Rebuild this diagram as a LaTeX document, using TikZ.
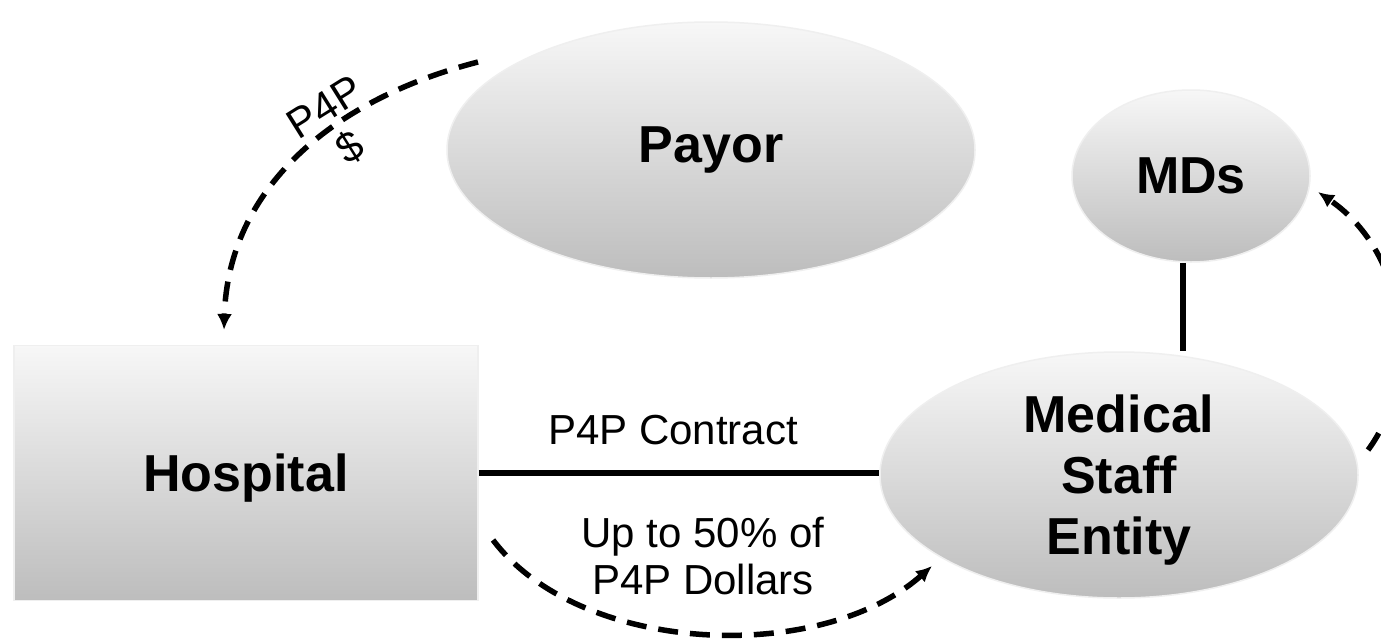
\documentclass[tikz,border=0pt]{standalone}
\usepackage{fontspec}
\setmainfont{Liberation Sans}
\usetikzlibrary{shapes.geometric,arrows.meta,calc}
\definecolor{topgray}{HTML}{F7F7F7}
\definecolor{botgray}{HTML}{BDBDBD}
\definecolor{rimgray}{HTML}{EFEFEF}
\begin{document}
\begin{tikzpicture}[x=1pt,y=-1pt,
  shadefill/.style={top color=topgray,bottom color=botgray,draw=rimgray,line width=1.5pt},
  oval/.style={shadefill,ellipse,inner sep=0pt,align=center,font=\fontsize{52}{61}\selectfont\bfseries},
  boxnode/.style={shadefill,rectangle,inner sep=0pt,minimum width=464pt,minimum height=255pt,font=\fontsize{52}{61}\selectfont\bfseries},
  solidlink/.style={line width=5.5pt},
  flowarrow/.style={line width=5.5pt,dash pattern=on 20pt off 12pt,-{Latex[length=16pt,width=15pt]}},
  lbl/.style={font=\fontsize{42}{47}\selectfont,align=center,inner sep=0pt}]
\useasboundingbox (0,0) rectangle (1381,642);
\fill[white] (0,0) rectangle (1381,642);
\clip (0,0) rectangle (1381,642);
% nodes
\node[boxnode,text depth=0pt] (hospital) at (246,473) {Hospital};
\node[oval,minimum width=528pt,minimum height=256pt] (payor) at (711,150) {Payor};
\node[oval,minimum width=238pt,minimum height=172pt] (mds) at (1191,176) {MDs};
\node[oval,text depth=0pt,minimum width=478pt,minimum height=246pt] (medical) at (1119,475) {Medical\\Staff\\Entity};
% labels
\node[lbl] (contract) at (673,430) {P4P Contract};
\node[lbl] (upto) at (703,556) {Up to 50\% of\\P4P Dollars};
\node[lbl,rotate=32] (p4pmoney) at (338,128) {P4P\\\$};
% solid connectors
\draw[solidlink] (hospital.east) -- (hospital.east -| medical.west);
\draw[solidlink] ([xshift=-8pt]mds.south) -- ([xshift=-8pt]mds.south |- medical.north);
% dashed flows
\coordinate (payorout) at (478,62);
\coordinate (hospin) at (224,330);
\draw[flowarrow] (payorout) .. controls (330,100) and (228,190) .. (hospin);
\coordinate (hospout) at (493,540);
\coordinate (medin) at (932,566);
\draw[flowarrow] (hospout) .. controls (580,655) and (820,665) .. (medin);
\coordinate (medout) at (1368,450);
\coordinate (mdsin) at (1318,192);
\draw[flowarrow] (medout) .. controls (1420,380) and (1410,255) .. (mdsin);
\end{tikzpicture}
\end{document}
